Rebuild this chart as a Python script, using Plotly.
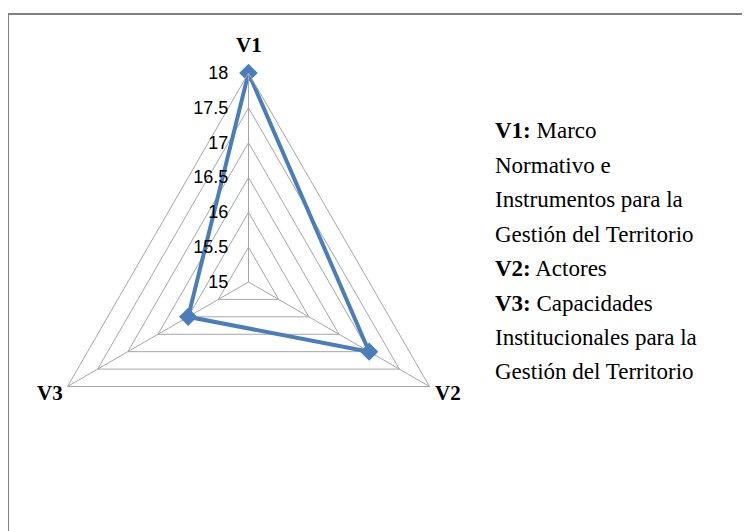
import plotly.graph_objects as go

# data
variables = ["V1", "V2", "V3"]
scores = [18, 17, 16]
tick_vals = [15, 15.5, 16, 16.5, 17, 17.5, 18]
tick_text = ["15", "15.5", "16", "16.5", "17", "17.5", "18"]

legend_lines = [
    "<b>V1:</b> Marco",
    "Normativo e",
    "Instrumentos para la",
    "Gestión del Territorio",
    "<b>V2:</b> Actores",
    "<b>V3:</b> Capacidades",
    "Institucionales para la",
    "Gestión del Territorio",
]

W, H = 750, 531
OFF = 8  # page body margin shifts the whole figure by 8px
BLUE = "#4A7EBB"
GRID = "#A6A6A6"
SERIF = "Liberation Serif, Times New Roman, serif"

fig = go.Figure()
fig.add_trace(go.Scatterpolar(
    r=scores + scores[:1],
    theta=variables + variables[:1],
    mode="lines+markers",
    line=dict(color=BLUE, width=4),
    marker=dict(symbol="diamond", size=14, color=BLUE),
    showlegend=False,
    hoverinfo="skip",
))

# pad the labels so they sit away from the V1 spoke
padded_ticks = [t + "\u2002\u2005" for t in tick_text]

# polar area: centre ~ (249, 280) on screen, outer radius ~209 px
cx, cy, R = 240.5, 274, 209
fig.update_layout(
    width=W, height=H,
    margin=dict(l=0, r=0, t=0, b=0),
    paper_bgcolor="white",
    polar=dict(
        domain=dict(x=[(cx - R) / W, (cx + R) / W],
                    y=[1 - (cy + R) / H, 1 - (cy - R) / H]),
        bgcolor="white",
        gridshape="linear",
        radialaxis=dict(
            range=[15, 18], tickvals=tick_vals, ticktext=padded_ticks,
            angle=90, tickangle=90, side="counterclockwise",
            showline=True, linecolor=GRID, linewidth=1,
            gridcolor=GRID, gridwidth=1, ticks="",
            tickfont=dict(family="Liberation Sans", size=18, color="black"),
        ),
        angularaxis=dict(
            rotation=90, direction="clockwise",
            showline=True, linecolor=GRID, linewidth=1,
            gridcolor=GRID, ticks="", showticklabels=False,
        ),
    ),
)


def px_x(x):
    return (x - OFF) / W


def px_y(y):
    return 1 - (y - OFF) / H


# category labels at the triangle corners (screen px)
label_pos = {"V1": (249, 45), "V2": (448, 393), "V3": (50, 393)}
for v in variables:
    lx, ly = label_pos[v]
    fig.add_annotation(
        x=px_x(lx), y=px_y(ly), xref="paper", yref="paper",
        xanchor="center", yanchor="middle",
        text=f"<b>{v}</b>", showarrow=False,
        font=dict(family=SERIF, size=21, color="black"),
    )

# gray frame (only top and left edges fall inside the picture)
fig.add_shape(type="rect", xref="paper", yref="paper",
              x0=px_x(8), x1=1.05, y0=-0.05, y1=px_y(14),
              line=dict(color="#808080", width=2))

for i, txt in enumerate(legend_lines):
    fig.add_annotation(
        x=px_x(493), y=px_y(131 + 34.4 * i),
        xref="paper", yref="paper", xanchor="left", yanchor="middle",
        text=txt, showarrow=False,
        font=dict(family=SERIF, size=23, color="black"),
    )

fig.write_html("out.html")
